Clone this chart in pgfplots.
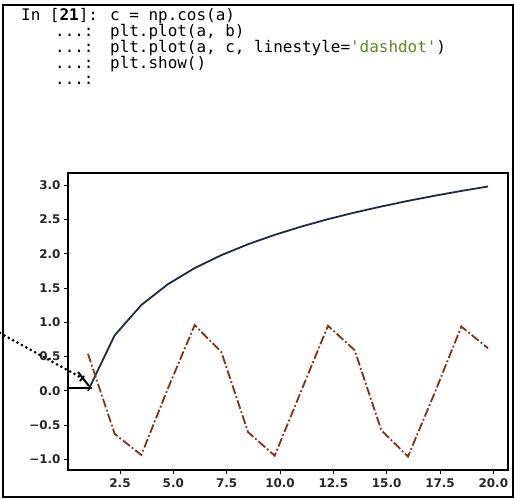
\documentclass[border=0pt]{standalone}
\usepackage{pgfplots}
\pgfplotsset{compat=1.18}
\usepackage{fontspec}
\setmainfont{DejaVu Sans}
\newfontfamily\code{DejaVu Sans Mono}
\definecolor{navy}{HTML}{1C2A48}
\definecolor{brick}{HTML}{8A2E12}
\definecolor{strgreen}{HTML}{5E8A1E}
\pgfplotstableread{
a b c
1 0.000 0.540
2.25 0.811 -0.628
3.5 1.253 -0.936
4.75 1.558 0.038
6 1.792 0.960
7.25 1.981 0.567
8.5 2.140 -0.602
9.75 2.277 -0.946
11 2.398 0.004
12.25 2.506 0.950
13.5 2.603 0.594
14.75 2.691 -0.576
16 2.773 -0.958
17.25 2.848 -0.029
18.5 2.918 0.939
19.75 2.983 0.622
}\datatable
\begin{document}
\begin{tikzpicture}[x=1bp,y=1bp]
\path[use as bounding box] (0,0) rectangle (515,499);
\draw[line width=1.5bp] (3,2) rectangle (513,494);
% code
\begin{scope}[every node/.style={anchor=base west, inner sep=0pt, font=\code\fontsize{16}{18}\selectfont}]
\node at (21,478) {In [\textbf{21}]:};
\node at (110,478) {c = np.cos(a)};
\node at (55,462) {...:};
\node at (110,462) {plt.plot(a, b)};
\node at (55,446) {...:};
\node at (110,446) {plt.plot(a, c, linestyle=\textcolor{strgreen}{\char39 dashdot\char39})};
\node at (55,430) {...:};
\node at (110,430) {plt.show()};
\node at (55,414) {...:};
\end{scope}
\begin{axis}[at={(68bp,29bp)}, anchor=south west, scale only axis,
  width=440bp, height=297bp,
  xmin=0.0625, xmax=20.6875, ymin=-1.155, ymax=3.18,
  xtick={2.5,5,7.5,10,12.5,15,17.5,20},
  xticklabels={2.5,5.0,7.5,10.0,12.5,15.0,17.5,20.0},
  ytick={-1,-0.5,0,0.5,1,1.5,2,2.5,3},
  yticklabels={−1.0,−0.5,0.0,0.5,1.0,1.5,2.0,2.5,3.0},
  xtick pos=bottom, ytick pos=left,
  tick align=outside, major tick length=4bp,
  tick style={black, line width=0.9bp},
  axis line style={line width=1.3bp},
  ticklabel style={font=\bfseries\fontsize{12}{13}\selectfont, text=black!85},
  xticklabel style={yshift=-1bp},
  clip=false]
\addplot[navy, line width=1.8bp, line join=round] table[x=a, y=b] {\datatable};
\addplot[brick, line width=1.8bp, dash pattern=on 9bp off 2.5bp on 1.8bp off 2.5bp] table[x=a, y=c] {\datatable};
\end{axis}
% annotation arrow
\draw[line width=3bp, dash pattern=on 0bp off 5bp, line cap=round] (0,166) -- (80,122);
\draw[line width=2bp] (78,127) -- (89,113);
\draw[line width=2bp] (84,123) -- (80,118);
\draw[line width=2.8bp] (68,111) -- (92,111);
\end{tikzpicture}
\end{document}
